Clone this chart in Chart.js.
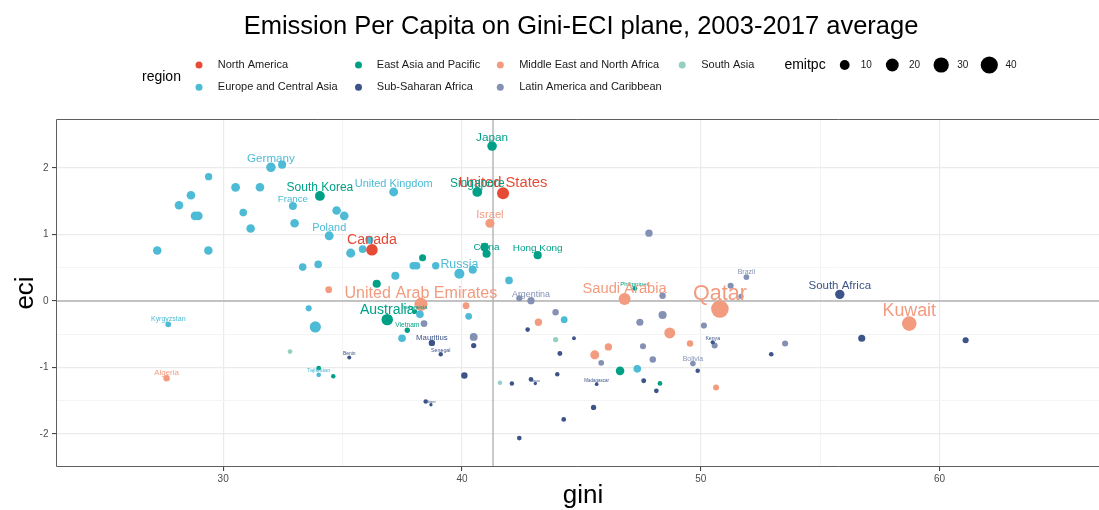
<!DOCTYPE html>
<html><head><meta charset="utf-8">
<script src="https://cdn.jsdelivr.net/npm/chart.js@4.4.1/dist/chart.umd.min.js"></script>
<style>html,body{margin:0;padding:0;background:#fff;}canvas{display:block;}</style>
</head><body>
<canvas id="c" width="1099" height="510"></canvas>
<script>
// ---------- DATA ----------
const titleText = 'Emission Per Capita on Gini-ECI plane, 2003-2017 average';
const regionNames = ['North America','Europe and Central Asia','East Asia and Pacific','Sub-Saharan Africa','Middle East and North Africa','Latin America and Caribbean','South Asia'];
const emitpcBreaks = [10, 20, 30, 40];
const xMajor = [30, 40, 50, 60];
const xMinor = [35, 55];
const yMajor = [-2, -1, 0, 1, 2];
const yMinor = [-1.5, -0.5, 0.5];
const hlineEci = 0;
const vlineGini = 41.3;

const naLabels = ['Canada','United States'];
const naGini = [36.23, 41.72];
const naEci  = [0.77, 1.62];
const naEmit = [15.5, 17];

const ecaLabels = [
  '','','','','','','','','','Germany',
  '','','','France','','','','Poland','','',
  '','','','United Kingdom','','','','','Russia','',
  '','','','','','','Tajikistan','','','Kyrgyzstan'
];
const ecaGini = [29.39,28.65,28.15,28.82,28.96,27.24,29.38,30.52,31.54,32.00,
  32.47,30.84,31.15,32.92,32.99,34.75,35.07,34.44,33.33,33.98,
  35.34,35.84,36.12,37.14,37.21,37.96,38.10,38.90,39.89,40.45,
  41.97,33.58,33.86,38.24,37.49,40.28,34.00,44.28,47.34,27.70];
const ecaEci  = [1.87,1.59,1.44,1.28,1.28,0.76,0.76,1.71,1.71,2.01,
  2.05,1.33,1.09,1.43,1.17,1.36,1.28,0.98,0.51,0.55,
  0.72,0.78,0.92,1.64,0.38,0.53,0.53,0.53,0.41,0.47,
  0.31,-0.11,-0.39,-0.20,-0.56,-0.23,-1.11,-0.28,-1.02,-0.35];
const ecaEmit = [4.5,7,7,7,7,7,7,7.5,7,9.2,
  6,5,7,5.6,7,7,7,7.8,5,5,
  8,5,6,7.8,6,5,5,4.5,10.9,6,
  5,2.5,14,5,5,3.5,0.9,3.5,5,2];

const eapLabels = ['Japan','Singapore','South Korea','','China','Hong Kong','','','Australia','Indonesia','Vietnam','','','','','Philippines'];
const eapGini = [41.26,40.64,34.05,40.95,41.03,43.17,38.35,36.43,36.87,38.03,37.71,34.00,34.61,46.62,48.29,47.24];
const eapEci  = [2.33,1.64,1.58,0.81,0.71,0.69,0.65,0.26,-0.28,-0.16,-0.44,-1.01,-1.13,-1.05,-1.24,0.19];
const eapEmit = [9.5,10,10,7,6,6,4,6,15,1.0,1.6,1,0.8,7,1,1.2];

const ssaLabels = ['South Africa','','','','Kenya','','','','','','Togo','','','Madagascar','','','','','','Mauritius','Senegal','Benin','','Niger','',''];
const ssaGini = [55.82,56.74,61.09,52.95,50.50,49.87,42.75,44.69,44.10,42.89,43.07,42.09,43.99,45.64,47.61,48.14,45.51,44.26,42.40,38.74,39.11,35.28,38.48,38.70,40.10,40.49];
const ssaEci  = [0.10,-0.56,-0.59,-0.80,-0.62,-1.05,-0.43,-0.56,-0.79,-1.18,-1.24,-1.24,-1.10,-1.25,-1.20,-1.35,-1.60,-1.78,-2.06,-0.63,-0.80,-0.85,-1.51,-1.56,-1.12,-0.67];
const ssaEmit = [8.9,4,2.5,0.9,0.6,0.8,0.9,0.4,1.2,1,0.15,0.8,0.8,0.3,1.2,1,1.5,1,1,2.9,0.7,0.5,0.8,0.15,3,1.5];

const menaLabels = ['Israel','','United Arab Emirates','','','','','','','','Saudi Arabia','Qatar','Kuwait','Algeria'];
const menaGini = [41.17,34.42,38.28,40.17,43.20,46.13,45.56,48.70,49.55,50.64,46.81,50.80,58.73,27.63];
const menaEci  = [1.17,0.17,-0.05,-0.07,-0.32,-0.69,-0.81,-0.48,-0.64,-1.30,0.03,-0.12,-0.34,-1.16];
const menaEmit = [8.3,3.5,21,3.5,4.5,4.5,8,13.5,3,2.3,16.8,42,27,3];

const lacLabels = ['','Argentina','','','','','','','','','','Bolivia','','Brazil','','','','',''];
const lacGini = [42.40,42.89,43.92,47.45,48.40,48.40,47.58,47.99,45.83,50.13,50.58,49.67,51.25,51.91,51.68,53.53,38.41,40.49,47.83];
const lacEci  = [0.04,0.005,-0.17,-0.32,-0.21,0.08,-0.68,-0.88,-0.93,-0.37,-0.67,-0.94,0.23,0.36,0.07,-0.64,-0.34,-0.54,1.02];
const lacEmit = [2.5,4.3,3,4,6,3,2.5,3,2,2.5,2.5,1.9,2.5,2,1.5,2.5,3.5,5.5,4.5];

const saLabels = ['','',''];
const saGini = [32.80,43.92,41.59];
const saEci  = [-0.76,-0.58,-1.23];
const saEmit = [1,1.5,0.8];

// ---------- STYLE / BUILD ----------
const FONT = '"Liberation Sans", Arial, Helvetica, sans-serif';
Chart.defaults.font.family = FONT;
const X_MIN = 23.0, X_MAX = 66.675, Y_MIN = -2.496, Y_MAX = 2.737;
function radius(e){ return 1.2 + 1.17*Math.sqrt(e); }

const regionColors = {
  'North America':'#E64B35','Europe and Central Asia':'#4DBBD5','East Asia and Pacific':'#00A087',
  'Sub-Saharan Africa':'#3C5488','Middle East and North Africa':'#F39B7F','Latin America and Caribbean':'#8491B4','South Asia':'#91D1C2'
};
const regions = [
  {name:regionNames[0], labels:naLabels, gini:naGini, eci:naEci, emit:naEmit},
  {name:regionNames[1], labels:ecaLabels, gini:ecaGini, eci:ecaEci, emit:ecaEmit},
  {name:regionNames[2], labels:eapLabels, gini:eapGini, eci:eapEci, emit:eapEmit},
  {name:regionNames[3], labels:ssaLabels, gini:ssaGini, eci:ssaEci, emit:ssaEmit},
  {name:regionNames[4], labels:menaLabels, gini:menaGini, eci:menaEci, emit:menaEmit},
  {name:regionNames[5], labels:lacLabels, gini:lacGini, eci:lacEci, emit:lacEmit},
  {name:regionNames[6], labels:saLabels, gini:saGini, eci:saEci, emit:saEmit}
];

const datasets = regions.map(r => ({
  label: r.name,
  data: r.gini.map((g,i)=>({x:g, y:r.eci[i], r:radius(r.emit[i])})),
  backgroundColor: regionColors[r.name],
  borderWidth: 0,
  hoverRadius: 0
}));

const xGrid = xMajor.concat(xMinor).sort((a,b)=>a-b);
const yGrid = yMajor.concat(yMinor).sort((a,b)=>a-b);

const panelPlugin = {
  id:'panel',
  beforeDatasetsDraw(chart){
    const {ctx, chartArea:a, scales:{x,y}} = chart;
    ctx.save();
    ctx.strokeStyle = '#B3B3B3'; ctx.lineWidth = 1.4;
    const py = y.getPixelForValue(hlineEci);
    ctx.beginPath(); ctx.moveTo(a.left, py); ctx.lineTo(a.right, py); ctx.stroke();
    const px = x.getPixelForValue(vlineGini);
    ctx.beginPath(); ctx.moveTo(px, a.top); ctx.lineTo(px, a.bottom); ctx.stroke();
    ctx.restore();
  },
  afterDatasetsDraw(chart){
    const {ctx, chartArea:a, scales:{x,y}} = chart;
    ctx.save();
    ctx.beginPath(); ctx.rect(a.left, a.top, a.right-a.left, a.bottom-a.top); ctx.clip();
    ctx.textAlign='center'; ctx.textBaseline='middle';
    regions.forEach(r=>{
      ctx.fillStyle = regionColors[r.name];
      r.labels.forEach((lab,i)=>{
        if(!lab) return;
        const fs = 2.45*radius(r.emit[i]);
        ctx.font = fs.toFixed(2)+'px '+FONT;
        ctx.fillText(lab, x.getPixelForValue(r.gini[i]), y.getPixelForValue(r.eci[i]) - 0.7*fs);
      });
    });
    ctx.restore();
  },
  afterDraw(chart){
    const {ctx, chartArea:a} = chart;
    ctx.save();
    // panel border (right edge is outside the picture)
    ctx.strokeStyle='#5E5E5E'; ctx.lineWidth=1;
    ctx.beginPath();
    ctx.moveTo(a.right, a.top+0.5); ctx.lineTo(a.left+0.5, a.top+0.5);
    ctx.lineTo(a.left+0.5, a.bottom-0.5); ctx.lineTo(a.right, a.bottom-0.5);
    ctx.stroke();
    // title
    ctx.fillStyle='#000';
    ctx.font='25.5px '+FONT; ctx.textAlign='center'; ctx.textBaseline='alphabetic';
    ctx.fillText(titleText, 581, 34);
    // axis titles
    ctx.font='26px '+FONT;
    ctx.fillText('gini', 583, 503);
    ctx.save(); ctx.translate(33, 293); ctx.rotate(-Math.PI/2);
    ctx.fillText('eci', 0, 0); ctx.restore();
    // legend: region
    ctx.textAlign='left'; ctx.textBaseline='middle';
    ctx.font='14px '+FONT; ctx.fillStyle='#000';
    ctx.fillText('region', 142, 77);
    const colIcon=[199,358.5,500.3,682.2], colText=[217.8,376.8,519.2,701.2], rowY=[65,87.3];
    const order=[[0,0,0],[1,0,1],[2,1,0],[3,1,1],[4,2,0],[5,2,1],[6,3,0]];
    ctx.font='11px '+FONT;
    order.forEach(([ri,c,rw])=>{
      const nm = regionNames[ri];
      ctx.fillStyle = regionColors[nm];
      ctx.beginPath(); ctx.arc(colIcon[c], rowY[rw], 3.5, 0, Math.PI*2); ctx.fill();
      ctx.fillStyle='#1A1A1A';
      ctx.fillText(nm, colText[c], rowY[rw]);
    });
    // legend: emitpc
    ctx.font='14px '+FONT; ctx.fillStyle='#000';
    ctx.fillText('emitpc', 784.4, 65);
    const sx=[844.7,892.3,941.2,989.3], tx=[860.8,909,957.2,1005.4];
    ctx.font='10px '+FONT;
    emitpcBreaks.forEach((b,i)=>{
      ctx.fillStyle='#000';
      ctx.beginPath(); ctx.arc(sx[i], 65, radius(b), 0, Math.PI*2); ctx.fill();
      ctx.fillStyle='#1A1A1A';
      ctx.fillText(String(b), tx[i], 65);
    });
    ctx.restore();
  }
};

function gridOpts(major){
  const isMaj = c => c.tick && major.includes(c.tick.value);
  return {
    color: c => isMaj(c) ? '#EBEBEB' : '#F4F4F4',
    lineWidth: c => isMaj(c) ? 1.2 : 1,
    tickLength: 4,
    tickWidth: 1,
    tickColor: c => isMaj(c) ? '#333333' : 'rgba(0,0,0,0)'
  };
}

new Chart(document.getElementById('c'), {
  type:'bubble',
  data:{datasets},
  plugins:[panelPlugin],
  options:{
    responsive:false, animation:false, devicePixelRatio:1, events:[],
    layout:{autoPadding:false, padding:{top:119,left:0,right:0,bottom:0}},
    plugins:{legend:{display:false}, tooltip:{enabled:false}, title:{display:false}},
    scales:{
      x:{type:'linear', min:X_MIN, max:X_MAX,
        afterBuildTicks: s => { s.ticks = xGrid.map(v=>({value:v})); },
        afterFit: s => { s.height = 43; s.paddingLeft = 0; s.paddingRight = 0; },
        ticks:{callback: v => xMajor.includes(v) ? String(v) : '', font:{size:10}, color:'#4D4D4D', padding:2, autoSkip:false, maxRotation:0, minRotation:0},
        grid: gridOpts(xMajor),
        border:{display:false}
      },
      y:{type:'linear', min:Y_MIN, max:Y_MAX,
        afterBuildTicks: s => { s.ticks = yGrid.map(v=>({value:v})); },
        afterFit: s => { s.width = 56; s.paddingTop = 0; s.paddingBottom = 0; },
        ticks:{callback: v => yMajor.includes(v) ? String(v) : '', font:{size:10}, color:'#4D4D4D', padding:3.5, autoSkip:false},
        grid: gridOpts(yMajor),
        border:{display:false}
      }
    }
  }
});
</script>
</body></html>
